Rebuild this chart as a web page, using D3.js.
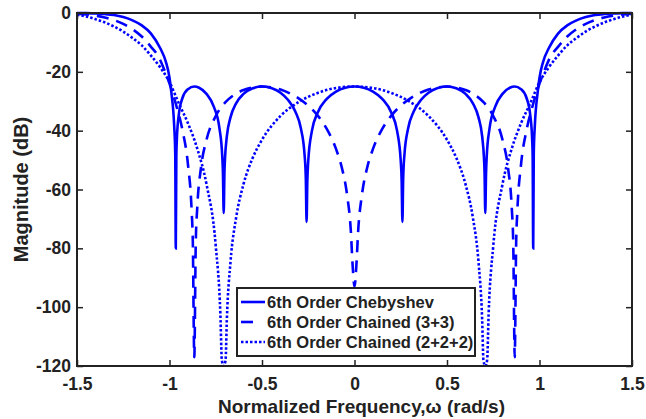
<!DOCTYPE html>
<html>
<head>
<meta charset="utf-8">
<script src="https://cdn.jsdelivr.net/npm/d3@7"></script>
<style>
  body { margin: 0; background: #fff; }
  text { font-family: "Liberation Sans", Arial, sans-serif; font-weight: bold; fill: #222; }
</style>
</head>
<body>
<svg id="chart" width="646" height="419"></svg>
<script>
// values: [normalized frequency, magnitude dB]
var chebyshev = [
  [-1.5,0],[-1.45,-0.05],[-1.4,-0.15],[-1.35,-0.35],[-1.3,-0.7],[-1.25,-1.4],[-1.2,-2.5],[-1.15,-4.2],
  [-1.1,-7],[-1.05,-12],[-1.02,-16.5],[-1.0,-22],[-0.99,-27],[-0.975,-38],[-0.969,-47.7],[-0.966,-80],
  [-0.963,-48.4],[-0.96,-42.6],[-0.95,-34.7],[-0.93,-28.9],[-0.9,-25.9],[-0.866,-25],[-0.84,-25.4],
  [-0.8,-27.5],[-0.76,-31.9],[-0.73,-39.2],[-0.715,-48.5],[-0.711,-54.6],[-0.707,-68],[-0.703,-54.1],
  [-0.7,-49.5],[-0.69,-41.9],[-0.67,-35.4],[-0.64,-30.7],[-0.6,-27.5],[-0.55,-25.6],[-0.5,-25],
  [-0.45,-25.5],[-0.4,-27.1],[-0.36,-29.5],[-0.32,-33.5],[-0.29,-39.2],[-0.27,-48.1],[-0.263,-56.7],
  [-0.259,-71],[-0.255,-57.2],[-0.25,-50.3],[-0.23,-40],[-0.2,-34],[-0.15,-29.2],[-0.1,-26.7],
  [-0.05,-25.4],[0,-25],
  [0.05,-25.4],[0.1,-26.7],[0.15,-29.2],[0.2,-34],[0.23,-40],[0.25,-50.3],[0.255,-57.2],[0.259,-71],
  [0.263,-56.7],[0.27,-48.1],[0.29,-39.2],[0.32,-33.5],[0.36,-29.5],[0.4,-27.1],[0.45,-25.5],[0.5,-25],
  [0.55,-25.6],[0.6,-27.5],[0.64,-30.7],[0.67,-35.4],[0.69,-41.9],[0.7,-49.5],[0.703,-54.1],[0.707,-68],
  [0.711,-54.6],[0.715,-48.5],[0.73,-39.2],[0.76,-31.9],[0.8,-27.5],[0.84,-25.4],[0.866,-25],[0.9,-25.9],
  [0.93,-28.9],[0.95,-34.7],[0.96,-42.6],[0.963,-48.4],[0.966,-80],[0.969,-47.7],[0.975,-38],[0.99,-27],
  [1.0,-22],[1.02,-16.5],[1.05,-12],[1.1,-7],[1.15,-4.2],[1.2,-2.5],[1.25,-1.4],[1.3,-0.7],[1.35,-0.35],
  [1.4,-0.15],[1.45,-0.05],[1.5,0]
];

var chained33 = [
  [-1.5,-0.2],[-1.45,-0.5],[-1.4,-0.9],[-1.35,-1.5],[-1.3,-2.4],[-1.25,-3.7],[-1.2,-5.5],[-1.15,-8],
  [-1.1,-11.5],[-1.06,-14.8],[-1.03,-19],[-1.0,-24],[-0.96,-32.2],[-0.93,-39.8],[-0.9,-51.6],
  [-0.88,-67.6],[-0.874,-77.6],[-0.866,-117],[-0.858,-78],[-0.85,-66.2],[-0.83,-52.7],[-0.8,-43.1],
  [-0.75,-35],[-0.7,-30.5],[-0.65,-27.8],[-0.6,-26.2],[-0.55,-25.3],[-0.5,-25],[-0.45,-25.3],[-0.4,-26],
  [-0.35,-27.3],[-0.3,-29.1],[-0.25,-31.5],[-0.2,-34.8],[-0.15,-39.4],[-0.1,-46.2],[-0.07,-52.2],
  [-0.04,-61.9],[-0.02,-73.9],[-0.01,-85.9],[0,-93],
  [0.01,-85.9],[0.02,-73.9],[0.04,-61.9],[0.07,-52.2],[0.1,-46.2],[0.15,-39.4],[0.2,-34.8],[0.25,-31.5],
  [0.3,-29.1],[0.35,-27.3],[0.4,-26],[0.45,-25.3],[0.5,-25],[0.55,-25.3],[0.6,-26.2],[0.65,-27.8],
  [0.7,-30.5],[0.75,-35],[0.8,-43.1],[0.83,-52.7],[0.85,-66.2],[0.858,-78],[0.866,-117],[0.874,-77.6],
  [0.88,-67.6],[0.9,-51.6],[0.93,-39.8],[0.96,-32.2],[1.0,-24],[1.03,-19],[1.06,-14.8],[1.1,-11.5],
  [1.15,-8],[1.2,-5.5],[1.25,-3.7],[1.3,-2.4],[1.35,-1.5],[1.4,-0.9],[1.45,-0.5],[1.5,-0.2]
];

var chained222 = [
  [-1.5,-0.6],[-1.45,-1.2],[-1.4,-2.1],[-1.35,-3.2],[-1.3,-4.6],[-1.25,-6.3],[-1.2,-8.5],[-1.15,-11],
  [-1.1,-14.5],[-1.05,-18.5],[-1.0,-23.5],[-0.95,-30.7],[-0.9,-37.5],[-0.85,-46.1],[-0.8,-58.2],
  [-0.75,-79.2],[-0.725,-102.4],[-0.717,-118],[-0.707,-120],[-0.697,-118],[-0.69,-104.2],[-0.67,-84.4],
  [-0.64,-69.6],[-0.6,-58.2],[-0.55,-49.2],[-0.5,-43.1],[-0.4,-35],[-0.3,-30.2],[-0.2,-27.2],
  [-0.1,-25.5],[0,-25],
  [0.1,-25.5],[0.2,-27.2],[0.3,-30.2],[0.4,-35],[0.5,-43.1],[0.55,-49.2],[0.6,-58.2],[0.64,-69.6],
  [0.67,-84.4],[0.69,-104.2],[0.697,-118],[0.707,-120],[0.717,-118],[0.725,-102.4],[0.75,-79.2],
  [0.8,-58.2],[0.85,-46.1],[0.9,-37.5],[0.95,-30.7],[1.0,-23.5],[1.05,-18.5],[1.1,-14.5],[1.15,-11],
  [1.2,-8.5],[1.25,-6.3],[1.3,-4.6],[1.35,-3.2],[1.4,-2.1],[1.45,-1.2],[1.5,-0.6]
];

var xTicks = [-1.5, -1, -0.5, 0, 0.5, 1, 1.5];
var yTicks = [0, -20, -40, -60, -80, -100, -120];
var seriesNames = ["6th Order Chebyshev", "6th Order Chained (3+3)", "6th Order Chained (2+2+2)"];

var margin = {top: 13, right: 14, bottom: 53, left: 77};
var width = 646 - margin.left - margin.right;
var height = 419 - margin.top - margin.bottom;
var blue = "#0000ff";
var axisColor = "#222";

var svg = d3.select("#chart");
var g = svg.append("g").attr("transform", "translate(" + margin.left + "," + margin.top + ")");

var x = d3.scaleLinear().domain([-1.5, 1.5]).range([0, width]);
var y = d3.scaleLinear().domain([-120, 0]).range([height, 0]);

g.append("clipPath").attr("id", "plotclip")
  .append("rect").attr("x", 0).attr("y", -2).attr("width", width).attr("height", height + 2);

var line = d3.line()
  .x(function(d){ return x(d[0]); })
  .y(function(d){ return y(d[1]); })
  .curve(d3.curveMonotoneX);

var series = [
  {name: seriesNames[0], values: chebyshev, dash: null, legendDash: null},
  {name: seriesNames[1], values: chained33, dash: "12,8", legendDash: "12,14"},
  {name: seriesNames[2], values: chained222, dash: "2.5,2", legendDash: "2.5,2"}
];

g.append("g").attr("clip-path", "url(#plotclip)")
  .selectAll("path.curve")
  .data(series)
  .enter()
  .append("path")
  .attr("class", "curve")
  .attr("d", function(d){ return line(d.values); })
  .attr("fill", "none")
  .attr("stroke", blue)
  .attr("stroke-width", 2.6)
  .attr("stroke-dasharray", function(d){ return d.dash; });

// axes, MATLAB style box with inward ticks
function styleAxis(sel) {
  sel.select(".domain").remove();
  sel.selectAll(".tick line").attr("stroke", axisColor).attr("stroke-width", 1.5);
  sel.selectAll(".tick text").style("font-size", "17.5px").attr("fill", axisColor);
}

g.append("g").attr("transform", "translate(0," + height + ")")
  .call(d3.axisBottom(x).tickValues(xTicks).tickSize(-6).tickPadding(12)
    .tickFormat(function(d){ return String(d); }))
  .call(styleAxis);

g.append("g").attr("transform", "translate(0,0)")
  .call(d3.axisTop(x).tickValues(xTicks).tickSize(-6).tickFormat(""))
  .call(styleAxis);

g.append("g")
  .call(d3.axisLeft(y).tickValues(yTicks).tickSize(-6).tickPadding(6)
    .tickFormat(function(d){ return String(d); }))
  .call(styleAxis);

g.append("g").attr("transform", "translate(" + width + ",0)")
  .call(d3.axisRight(y).tickValues(yTicks).tickSize(-6).tickFormat(""))
  .call(styleAxis);

g.append("rect")
  .attr("x", 0).attr("y", 0).attr("width", width).attr("height", height)
  .attr("fill", "none").attr("stroke", axisColor).attr("stroke-width", 2);

// axis titles
g.append("text")
  .attr("x", width / 2 + 7).attr("y", height + 47)
  .attr("text-anchor", "middle")
  .style("font-size", "19px")
  .text("Normalized Frequency,\u03c9 (rad/s)");

g.append("text")
  .attr("transform", "translate(" + (-49) + "," + (height / 2) + ") rotate(-90)")
  .attr("text-anchor", "middle")
  .style("font-size", "20px")
  .text("Magnitude (dB)");

// legend
var legend = svg.append("g").attr("transform", "translate(237,288)");
legend.append("rect")
  .attr("width", 238).attr("height", 68)
  .attr("fill", "#fff").attr("stroke", axisColor).attr("stroke-width", 2);

var rows = legend.selectAll("g.row")
  .data(series)
  .enter()
  .append("g")
  .attr("class", "row")
  .attr("transform", function(d, i){ return "translate(0," + (14 + i * 20) + ")"; });

rows.append("line")
  .attr("x1", 4).attr("x2", 28)
  .attr("stroke", blue).attr("stroke-width", 2.6)
  .attr("stroke-dasharray", function(d){ return d.legendDash; });

rows.append("text")
  .attr("x", 30).attr("dy", "0.35em")
  .style("font-size", "16.5px")
  .text(function(d){ return d.name; });
</script>
</body>
</html>
